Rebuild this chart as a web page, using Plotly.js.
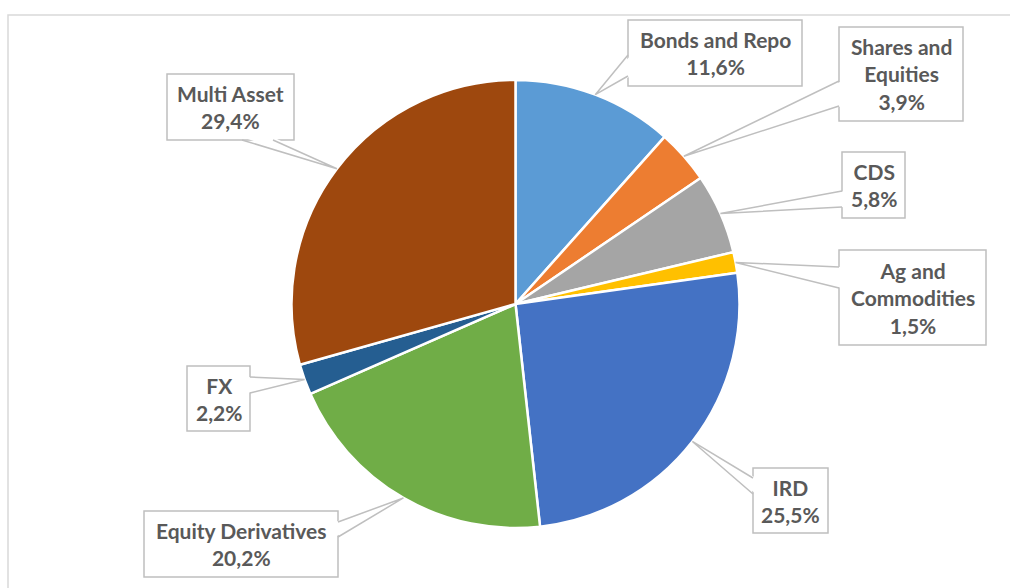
<!DOCTYPE html>
<html>
<head>
<meta charset="utf-8">
<script src="https://cdn.plot.ly/plotly-3.0.1.min.js"></script>
<style>html,body{margin:0;padding:0;background:#fff;}#chart{width:1010px;height:588px;}</style>
</head>
<body>
<div id="chart"></div>
<script>
// ---- data ----
const categories = ['Bonds and Repo', 'Shares and Equities', 'CDS', 'Ag and Commodities', 'IRD', 'Equity Derivatives', 'FX', 'Multi Asset'];
const shares = [11.6, 3.9, 5.8, 1.5, 25.5, 20.2, 2.2, 29.4];
const boxLabels = ['Bonds and Repo', 'Shares and<br>Equities', 'CDS', 'Ag and<br>Commodities', 'IRD', 'Equity Derivatives', 'FX', 'Multi Asset'];
const colors = ['#5B9BD5', '#ED7D31', '#A5A5A5', '#FFC000', '#4472C4', '#70AD47', '#255E91', '#9E480E'];

// ---- layout (pixels) ----
const W = 1010, H = 588;
const pieBox = {x0: 291.5, x1: 739.5, y0: 80, y1: 528};
// label boxes [x0,y0,x1,y1], side where the callout wedge attaches, wedge base coords along that side
const boxes = [
  {r: [628, 20, 802, 86], side: 'left', base: [55, 76]},
  {r: [839, 27, 963, 121], side: 'left', base: [81, 106]},
  {r: [842, 152, 905, 218], side: 'left', base: [191, 207]},
  {r: [839, 250, 986, 345], side: 'left', base: [267, 288]},
  {r: [753, 468, 828, 533], side: 'left', base: [478, 494]},
  {r: [144, 511, 338, 577], side: 'right', base: [522, 537]},
  {r: [187, 366, 250, 431], side: 'right', base: [377, 393]},
  {r: [167, 74, 294, 140], side: 'bottom', base: [242, 273]}
];
const lineColor = '#BFBFBF';
const lineW = 1.5;

const px = x => x / W;
const py = y => 1 - y / H;

const cx = (pieBox.x0 + pieBox.x1) / 2, cy = (pieBox.y0 + pieBox.y1) / 2;
const R = (pieBox.x1 - pieBox.x0) / 2;
const total = shares.reduce((a, b) => a + b, 0);

const shapes = [{
  type: 'rect', xref: 'paper', yref: 'paper',
  x0: px(8), y0: py(15), x1: px(1012), y1: py(592),
  line: {color: '#D9D9D9', width: 1.5}, fillcolor: 'rgba(0,0,0,0)', layer: 'below'
}];
const annotations = [];

let cum = 0;
shares.forEach((v, i) => {
  const mid = (cum + v / 2) / total * 2 * Math.PI;
  cum += v;
  const ax = cx + R * Math.sin(mid);
  const ay = cy - R * Math.cos(mid);
  const b = boxes[i];
  const [x0, y0, x1, y1] = b.r;
  let p1, p2, q1, q2;
  if (b.side === 'left') { p1 = [x0, b.base[0]]; p2 = [x0, b.base[1]]; q1 = [x0 + 3, b.base[0]]; q2 = [x0 + 3, b.base[1]]; }
  else if (b.side === 'right') { p1 = [x1, b.base[0]]; p2 = [x1, b.base[1]]; q1 = [x1 - 3, b.base[0]]; q2 = [x1 - 3, b.base[1]]; }
  else { p1 = [b.base[0], y1]; p2 = [b.base[1], y1]; q1 = [b.base[0], y1 - 3]; q2 = [b.base[1], y1 - 3]; }
  // box outline
  shapes.push({
    type: 'rect', xref: 'paper', yref: 'paper',
    x0: px(x0), x1: px(x1), y0: py(y0), y1: py(y1),
    fillcolor: '#FFFFFF', line: {color: lineColor, width: lineW}, layer: 'above'
  });
  // wedge fill (covers the box border at the join)
  shapes.push({
    type: 'path', xref: 'paper', yref: 'paper',
    path: `M ${px(q1[0])} ${py(q1[1])} L ${px(ax)} ${py(ay)} L ${px(q2[0])} ${py(q2[1])} Z`,
    fillcolor: '#FFFFFF', line: {width: 0}, layer: 'above'
  });
  // wedge edges
  shapes.push({
    type: 'path', xref: 'paper', yref: 'paper',
    path: `M ${px(p1[0])} ${py(p1[1])} L ${px(ax)} ${py(ay)} L ${px(p2[0])} ${py(p2[1])}`,
    line: {color: lineColor, width: lineW}, layer: 'above'
  });
  annotations.push({
    xref: 'paper', yref: 'paper',
    x: px((x0 + x1) / 2), y: py((y0 + y1) / 2),
    xanchor: 'center', yanchor: 'middle',
    text: boxLabels[i] + '<br>' + v.toFixed(1).replace('.', ',') + '%',
    showarrow: false, align: 'center', valign: 'middle',
    font: {family: 'Lato, "Open Sans", sans-serif', size: 21, color: '#595959', weight: 700}
  });
});

const trace = {
  type: 'pie',
  labels: categories,
  values: shares,
  sort: false,
  direction: 'clockwise',
  rotation: 0,
  textinfo: 'none',
  hoverinfo: 'label+percent',
  marker: {colors: colors, line: {color: '#FFFFFF', width: 2.5}},
  domain: {x: [px(pieBox.x0), px(pieBox.x1)], y: [py(pieBox.y1), py(pieBox.y0)]},
  showlegend: false
};

const layout = {
  width: W, height: H,
  margin: {l: 0, r: 0, t: 0, b: 0},
  paper_bgcolor: '#FFFFFF',
  showlegend: false,
  shapes: shapes,
  annotations: annotations
};

Plotly.newPlot('chart', [trace], layout, {displayModeBar: false, staticPlot: true});
</script>
</body>
</html>
